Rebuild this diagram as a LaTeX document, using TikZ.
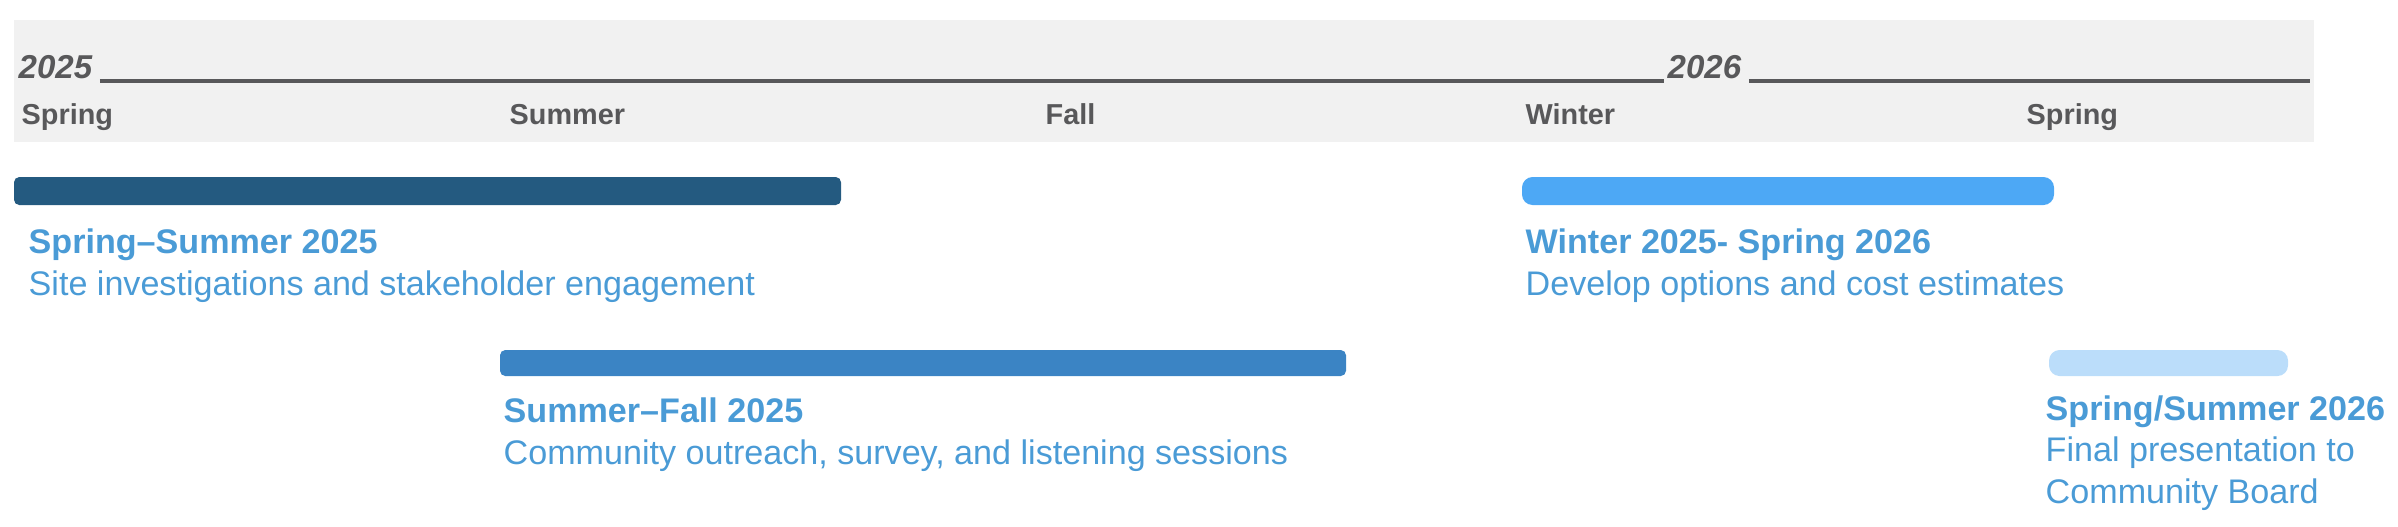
\documentclass[tikz,border=0pt]{standalone}
\usepackage{fontspec}
\setmainfont{Liberation Sans}
\usetikzlibrary{calc}
\definecolor{BandGrey}{HTML}{F1F1F1}
\definecolor{HeadGrey}{HTML}{58585A}
\definecolor{TLDark}{HTML}{245A80}
\definecolor{TLMiddle}{HTML}{3B84C4}
\definecolor{TLLight}{HTML}{4DA8F5}
\definecolor{TLPale}{HTML}{BBDDFA}
\definecolor{TLText}{HTML}{4A9BD6}

\begin{document}
\begin{tikzpicture}[
    x=0.01cm, y=-0.01cm,
    season/.style    = {anchor=base west, inner sep=0pt, text=HeadGrey, font=\fontsize{8.2}{10}\selectfont\bfseries},
    year/.style      = {anchor=base west, inner sep=0pt, text=HeadGrey, font=\fontsize{9.4}{11}\selectfont\bfseries\itshape},
    rule/.style      = {HeadGrey, line width=0.9pt},
    bar/.style       = {rounded corners=1.5pt},
    milestone/.style = {anchor=base west, inner sep=0pt, align=left, text=TLText, font=\fontsize{9.7}{11.7}\selectfont},
  ]
\useasboundingbox (0,0) rectangle (2398,526);

% header band
\fill[BandGrey] (14,20) rectangle (2314,142);
\node[year] (y2025) at (18,78) {2025};
\node[year] (y2026) at (1667,78) {2026};
\draw[rule] ($(y2025.base east)+(7,3)$) -- ($(y2026.base west)+(-3,3)$);
\draw[rule] ($(y2026.base east)+(7,3)$) -- (2310,81);

\node[season] (spring1) at (21,124)   {Spring};
\node[season] (summer)  at (509,124)  {Summer};
\node[season] (fall)    at (1045,124) {Fall};
\node[season] (winter)  at (1525,124) {Winter};
\node[season] (spring2) at (2026,124) {Spring};

% phase bars
\fill[bar, TLDark]   (14,177)   rectangle (841,205);
\fill[bar, TLMiddle] (500,350)  rectangle (1346,376);
\fill[bar, TLLight, rounded corners=3pt] (1522,177) rectangle (2054,205);
\fill[bar, TLPale, rounded corners=3pt]  (2049,350) rectangle (2288,376);

% phase labels (placed at the baseline of their last line)
\node[milestone] (phase1) at (28,295)
  {\textbf{Spring–Summer 2025}\\Site investigations and stakeholder engagement};
\node[milestone] (phase2) at (503,464)
  {\textbf{Summer–Fall 2025}\\Community outreach, survey, and listening sessions};
\node[milestone] (phase3) at (1525,295)
  {\textbf{Winter 2025- Spring 2026}\\Develop options and cost estimates};
\node[milestone] (phase4) at (2045,503)
  {\textbf{Spring/Summer 2026}\\Final presentation to\\Community Board};

\end{tikzpicture}
\end{document}
